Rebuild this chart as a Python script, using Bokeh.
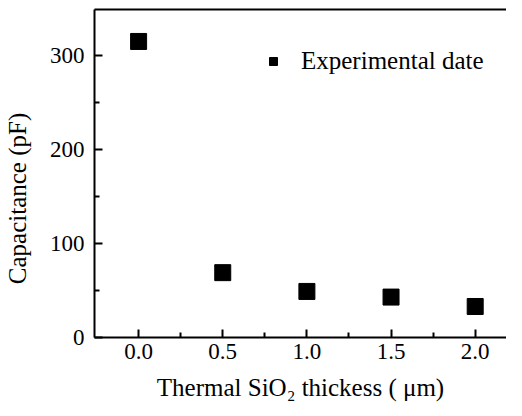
from bokeh.plotting import figure
from bokeh.models import FixedTicker, LinearAxis, Range1d, Legend, LegendItem, ColumnDataSource
from bokeh.embed import file_html
from bokeh.resources import INLINE

# data
thickness = [0.0, 0.5, 1.0, 1.5, 2.0]           # um
capacitance = [315, 69, 49, 43, 33]             # pF
x_ticks = [0.0, 0.5, 1.0, 1.5, 2.0]
x_minor = [0.25, 0.75, 1.25, 1.75]
y_ticks = [0, 100, 200, 300]
y_minor = [50, 150, 250]
series_name = "Experimental date"

FONT = "Liberation Serif"

p = figure(width=506, height=408, output_backend="svg", toolbar_location=None,
           x_range=Range1d(-0.262, 2.186), y_range=Range1d(0, 349),
           min_border_left=85, min_border_right=0, min_border_top=9, min_border_bottom=71)
p.outline_line_color = None
p.xgrid.visible = False
p.ygrid.visible = False
p.background_fill_color = "white"
p.border_fill_color = "white"

src = ColumnDataSource(dict(x=thickness, y=capacitance))
r = p.scatter("x", "y", source=src, marker="square", size=16,
              fill_color="black", line_color="black")

for ax in (p.xaxis[0], p.yaxis[0]):
    ax.axis_line_width = 2
    ax.major_tick_line_width = 2
    ax.minor_tick_line_width = 2
    ax.major_tick_in = 8
    ax.major_tick_out = 0
    ax.minor_tick_in = 5
    ax.minor_tick_out = 0
    ax.major_label_text_font = FONT
    ax.major_label_text_font_size = "23px"
    ax.major_label_text_color = "black"
    ax.axis_label_text_font = FONT
    ax.axis_label_text_font_size = "25px"
    ax.axis_label_text_font_style = "normal"
    ax.axis_label_text_color = "black"

p.xaxis[0].ticker = FixedTicker(ticks=x_ticks, minor_ticks=x_minor)
p.yaxis[0].ticker = FixedTicker(ticks=y_ticks, minor_ticks=y_minor)
p.xaxis[0].major_label_overrides = {v: f"{v:.1f}" for v in x_ticks}
p.xaxis[0].major_label_standoff = 6
p.yaxis[0].major_label_standoff = 10
p.xaxis[0].axis_label = "Thermal SiO\u2082 thickess ( \u03bcm)"
p.yaxis[0].axis_label = "Capacitance (pF)" + "\u00a0" * 8
p.xaxis[0].axis_label_standoff = 12
p.yaxis[0].axis_label_standoff = 16

top = LinearAxis(axis_line_width=2, major_tick_line_color=None, minor_tick_line_color=None,
                 major_label_text_font_size="0px", major_label_standoff=0,
                 major_tick_in=0, major_tick_out=0, minor_tick_in=0, minor_tick_out=0)
top.ticker = FixedTicker(ticks=[])
p.add_layout(top, "above")

legend = Legend(items=[LegendItem(label=series_name, renderers=[r])],
                location=(169, 262), padding=0, margin=0, spacing=0,
                glyph_width=20, glyph_height=20, label_height=20, label_standoff=18,
                label_text_font=FONT, label_text_font_size="25px", label_text_color="black",
                border_line_color=None, background_fill_alpha=0)
p.add_layout(legend, "center")

open("out.html", "w").write(file_html(p, INLINE))
